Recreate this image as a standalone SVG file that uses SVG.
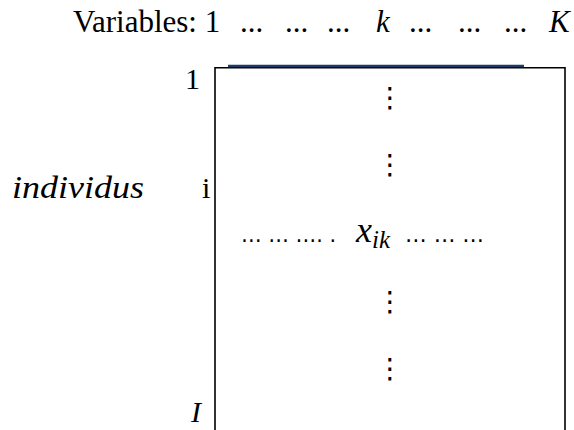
<svg xmlns="http://www.w3.org/2000/svg" width="574" height="430" viewBox="0 0 574 430">
<style>
.t{font-family:"Liberation Serif","Times New Roman",serif;fill:#000}
.m{font-family:"Liberation Serif","Times New Roman",serif;font-style:italic;fill:#000}
.v{font-family:"DejaVu Sans",sans-serif;fill:#000;text-anchor:middle}
.d{font-family:"DejaVu Sans",sans-serif;fill:#000}
</style>
<rect width="574" height="430" fill="#fff"/>
<g id="header">
<text class="t" font-size="31" y="32"><tspan x="73">Variables: 1</tspan><tspan x="240">...</tspan><tspan x="285">...</tspan><tspan x="327">...</tspan></text>
<text class="m" font-size="31" x="376" y="32">k</text>
<text class="t" font-size="31" y="32"><tspan x="409">...</tspan><tspan x="458">...</tspan><tspan x="504">...</tspan></text>
<text class="m" font-size="31" x="549" y="32">K</text>
</g>
<g id="matrix">
<polyline points="215,430 215,67.8 565,67.8 565,430" fill="none" stroke="#000" stroke-width="1.6"/>
<line x1="228" y1="66" x2="524" y2="66" stroke="#1f3864" stroke-width="2.6"/>
</g>
<g id="rows">
<text class="t" font-size="30" x="185" y="89">1</text>
<text class="m" font-size="32" x="12" y="198" textLength="132" lengthAdjust="spacingAndGlyphs">individus</text>
<text class="t" font-size="30" x="202" y="198">i</text>
<text class="m" font-size="30" x="191" y="422">I</text>
</g>
<g id="cells">
<text class="v" font-size="28" x="390" y="107">⋮</text>
<text class="v" font-size="28" x="390" y="174">⋮</text>
<text class="v" font-size="28" x="390" y="311">⋮</text>
<text class="v" font-size="28" x="390" y="378">⋮</text>
<text class="d" font-size="22" x="241" y="242" textLength="95" lengthAdjust="spacingAndGlyphs">… … …. .</text>
<text class="m" font-size="36" x="356" y="242">x<tspan font-size="25" dy="6">ik</tspan></text>
<text class="d" font-size="22" x="405" y="242" textLength="79" lengthAdjust="spacingAndGlyphs">… … …</text>
</g>
</svg>
